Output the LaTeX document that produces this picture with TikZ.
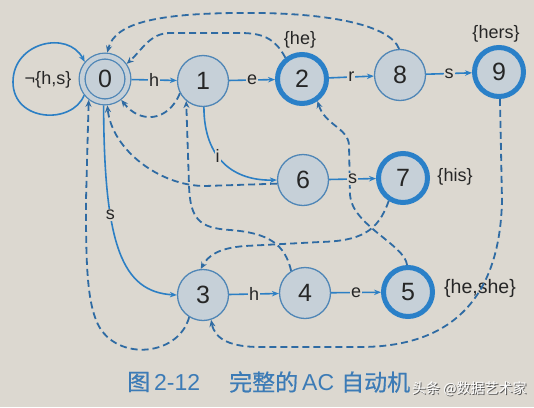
\documentclass[tikz,border=0pt]{standalone}
\usepackage{fontspec}
\setmainfont{Liberation Sans}
\newfontfamily\cjk{Noto Sans CJK SC}
\newfontfamily\cjkb[FakeBold=0.6]{Noto Sans CJK SC}
\usetikzlibrary{arrows.meta}
\definecolor{bg}{HTML}{DCD8D0}
\definecolor{nodefill}{HTML}{C6D0D8}
\definecolor{thinc}{HTML}{4F86B6}
\definecolor{thickc}{HTML}{2A80C8}
\definecolor{gotoc}{HTML}{2C7FC4}
\definecolor{failc}{HTML}{2F6BA3}
\definecolor{txt}{HTML}{262626}
\definecolor{capc}{HTML}{3C7BB6}
\definecolor{shadowc}{HTML}{555555}
\begin{document}
\begin{tikzpicture}[x=1pt,y=-1pt,
  stnode/.style={circle, draw=thinc, line width=1.3pt, fill=nodefill, minimum size=51pt, inner sep=0pt, font=\fontsize{25}{25}\selectfont, text=txt},
  acc/.style={stnode, draw=thickc, line width=5pt, minimum size=49pt},
  goto/.style={draw=gotoc, line width=1.6pt, -{Stealth[length=7pt,width=5.5pt]}},
  fail/.style={draw=failc, line width=1.8pt, dash pattern=on 7pt off 4pt, -{Stealth[length=7pt,width=6pt]}},
  lab/.style={fill=bg, inner sep=1pt, font=\fontsize{18}{18}\selectfont, text=txt},
  outlab/.style={inner sep=0pt, font=\fontsize{18}{18}\selectfont, text=txt},
  capt/.style={anchor=west, inner sep=0pt, text=capc, font=\fontsize{23}{23}\selectfont},
]
\useasboundingbox (0,0) rectangle (534,407);
\fill[bg] (0,0) rectangle (534,407);

% states
\node[stnode, double=nodefill, double distance=4.6pt, minimum size=45.8pt, outer sep=3.6pt] (n0) at (105,79) {0};
\node[stnode] (n1) at (203,81) {1};
\node[acc] (n2) at (302,79) {2};
\node[stnode] (n8) at (400,75) {8};
\node[acc] (n9) at (499,72) {9};
\node[stnode] (n6) at (303,180) {6};
\node[acc] (n7) at (403,178) {7};
\node[stnode] (n3) at (203,295) {3};
\node[stnode] (n4) at (305,293) {4};
\node[acc] (n5) at (408,292) {5};

% output labels
\node[outlab] (l2) at (300,40) {\{he\}};
\node[outlab] (l9) at (496,34) {\{hers\}};
\node[outlab] (l7) at (455,177) {\{his\}};
\node[outlab, font=\fontsize{19.5}{20}\selectfont] (l5) at (480,288) {\{he,she\}};
\node[outlab] (lloop) at (48,80) {¬\{h,s\}};

% failure links
\draw[fail] (n1.-152) .. controls (168,122) and (140,124) .. (n0.-52);
\draw[fail] (n2.128) .. controls (275,38) and (262,33) .. (240,33) -- (170,33) .. controls (150,33) and (142,50) .. (n0.35);
\draw[fail] (n8.92) .. controls (390,25) and (330,14) .. (260,13) .. controls (160,12) and (115,22) .. (n0.85);
\draw[fail] (n6.188) -- (205,186) .. controls (160,186) and (112,150) .. (n0.-85);
\draw[fail] (n3.-122) .. controls (178,358) and (112,362) .. (96,320) .. controls (86,295) and (86,250) .. (86,200) -- (n0.-128);
\draw[fail] (n4.122) .. controls (285,245) and (270,233) .. (230,230) .. controls (200,228) and (190,220) .. (189,185) -- (n1.-130);
\draw[fail] (n7.-122) .. controls (378,232) and (360,241) .. (320,242) -- (245,246) .. controls (218,248) and (208,256) .. (n3.95);
\draw[fail] (n5.92) .. controls (405,245) and (352,225) .. (350,195) -- (349,145) .. controls (348,128) and (325,125) .. (n2.-55);
\draw[fail] (n9.-88) -- (502,200) .. controls (500,300) and (450,347) .. (360,347) -- (260,347) .. controls (232,347) and (215,340) .. (n3.-72);

% goto edges
\draw[goto] (n0.-142) .. controls (72,125) and (13,122) .. (13,82) .. controls (13,42) and (68,30) .. (n0.140);
\draw[goto] (n0) -- node[lab]{h} (n1);
\draw[goto] (n1) -- node[lab]{e} (n2);
\draw[goto] (n2) -- node[lab]{r} (n8);
\draw[goto] (n8) -- node[lab]{s} (n9);
\draw[goto] (n6) -- node[lab]{s} (n7);
\draw[goto] (n3) -- node[lab]{h} (n4);
\draw[goto] (n4) -- node[lab]{e} (n5);
\draw[goto] (n1.-88) .. controls (204,160) and (235,181) .. node[lab,pos=0.4]{i} (n6.west);
\draw[goto] (n0.-93) .. controls (104,245) and (122,292) .. node[lab,pos=0.33]{s} (n3.west);

% caption
\node[capt] (cap1) at (127,382) {{\cjkb 图}\hspace{4pt}2-12};
\node[capt] (cap2) at (229,382) {{\cjkb 完整的}\hspace{4pt}AC\hspace{7pt}{\cjkb 自动机}};
\node[anchor=west, inner sep=0pt, text=shadowc, font=\cjk\fontsize{14}{14}\selectfont] (wms) at (413,390) {头条 @数据艺术家};
\node[anchor=west, inner sep=0pt, text=white, font=\cjk\fontsize{14}{14}\selectfont] (wm) at (412,389) {头条 @数据艺术家};
\end{tikzpicture}
\end{document}
